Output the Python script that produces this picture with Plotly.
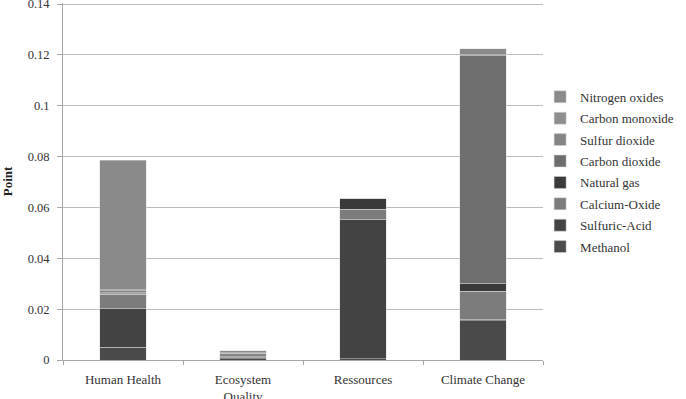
import plotly.graph_objects as go

categories = ["Human Health", "Ecosystem<br>Quality", "Ressources", "Climate Change"]

series_names = ["Methanol", "Sulfuric-Acid", "Calcium-Oxide", "Natural gas",
                "Carbon dioxide", "Sulfur dioxide", "Carbon monoxide", "Nitrogen oxides"]

methanol        = [0.0051, 0.0004, 0.0005, 0.0155]
sulfuric_acid   = [0.0153, 0.0005, 0.0548, 0.0006]
calcium_oxide   = [0.0055, 0.0003, 0.0039, 0.0110]
natural_gas     = [0.0002, 0.0000, 0.0043, 0.0031]
carbon_dioxide  = [0.0003, 0.0000, 0.0000, 0.0894]
sulfur_dioxide  = [0.0008, 0.0015, 0.0000, 0.0000]
carbon_monoxide = [0.0004, 0.0001, 0.0000, 0.0005]
nitrogen_oxides = [0.0509, 0.0008, 0.0000, 0.0023]

values = [methanol, sulfuric_acid, calcium_oxide, natural_gas,
          carbon_dioxide, sulfur_dioxide, carbon_monoxide, nitrogen_oxides]

colors = ["#4a4a4a", "#434343", "#7c7c7c", "#3a3a3a",
          "#6e6e6e", "#858585", "#8e8e8e", "#8a8a8a"]

y_ticks = [0, 0.02, 0.04, 0.06, 0.08, 0.1, 0.12, 0.14]
y_ticklabels = ["0", "0.02", "0.04", "0.06", "0.08", "0.1", "0.12", "0.14"]

FONT = "Liberation Serif, DejaVu Serif, serif"

fig = go.Figure()
for i, (name, vals, col) in enumerate(zip(series_names, values, colors)):
    fig.add_trace(go.Bar(
        x=categories, y=vals, name=name, legendgroup=name,
        legendrank=1000 - i,
        marker=dict(color=col, line=dict(color="rgba(220,220,220,0.6)", width=0.8)),
    ))

fig.update_layout(
    width=686, height=399,
    barmode="stack", bargap=0.61,
    paper_bgcolor="white", plot_bgcolor="white",
    margin=dict(l=63, r=143, t=3, b=39, autoexpand=False),
    font=dict(family=FONT, size=13, color="#333333"),
    showlegend=True,
    legend=dict(
        x=0.994, xanchor="left", y=0.527, yanchor="middle",
        traceorder="grouped", tracegroupgap=1.5,
        font=dict(family=FONT, size=13, color="#333333"),
        bgcolor="rgba(0,0,0,0)", itemwidth=30,
    ),
    xaxis=dict(
        showgrid=False, showline=True, linecolor="#a6a6a6", linewidth=1,
        ticks="outside", tickson="boundaries", ticklen=4, tickcolor="#a6a6a6",
        ticklabelstandoff=7,
        tickfont=dict(family=FONT, size=13, color="#333333"),
    ),
    yaxis=dict(
        range=[0, 0.1404], tickvals=y_ticks, ticktext=y_ticklabels,
        showgrid=True, gridcolor="#bcbcbc", gridwidth=1,
        showline=True, linecolor="#a6a6a6", linewidth=1,
        ticks="outside", ticklen=5, tickcolor="#a6a6a6",
        ticklabelstandoff=5, ticklabeloverflow="allow",
        tickfont=dict(family=FONT, size=12.5, color="#333333"),
        zeroline=False,
        title=dict(text="<b>Point</b>", font=dict(family=FONT, size=13, color="#222222"), standoff=14),
    ),
)

fig.write_html("out.html")
